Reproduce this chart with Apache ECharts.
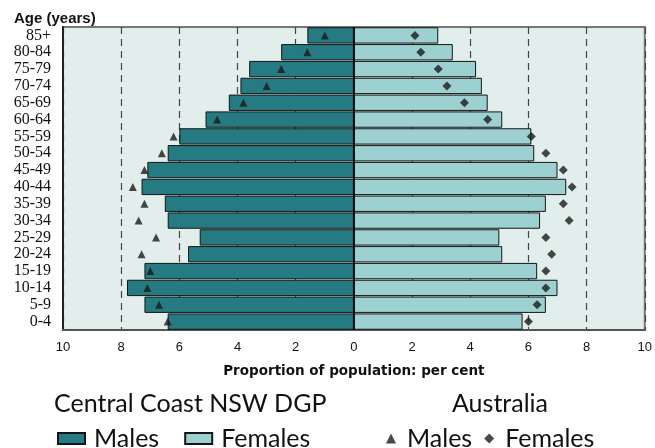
<!DOCTYPE html>
<html>
<head>
<meta charset="utf-8">
<script src="https://cdn.jsdelivr.net/npm/echarts@6/dist/echarts.min.js"></script>
<style>
html,body{margin:0;padding:0;background:#fff;}
#chart{width:655px;height:448px;}
</style>
</head>
<body>
<div id="chart"></div>
<script>
var categories = ['0-4','5-9','10-14','15-19','20-24','25-29','30-34','35-39','40-44','45-49','50-54','55-59','60-64','65-69','70-74','75-79','80-84','85+'];
var ccMales   = [6.4, 7.2, 7.8, 7.2, 5.7, 5.3, 6.4, 6.5, 7.3, 7.1, 6.4, 6.0, 5.1, 4.3, 3.9, 3.6, 2.5, 1.6];
var ccFemales = [5.8, 6.6, 7.0, 6.3, 5.1, 5.0, 6.4, 6.6, 7.3, 7.0, 6.2, 6.1, 5.1, 4.6, 4.4, 4.2, 3.4, 2.9];
var ausMales  = [6.4, 6.7, 7.1, 7.0, 7.3, 6.8, 7.4, 7.2, 7.6, 7.2, 6.6, 6.2, 4.7, 3.8, 3.0, 2.5, 1.6, 1.0];
var ausFemales= [6.0, 6.3, 6.6, 6.6, 6.8, 6.6, 7.4, 7.2, 7.5, 7.2, 6.6, 6.1, 4.6, 3.8, 3.2, 2.9, 2.3, 2.1];
var xTicks = [-10,-8,-6,-4,-2,0,2,4,6,8,10];

var chart = echarts.init(document.getElementById('chart'), null, {renderer:'canvas'});
var legendFont = 'Lato';
var option = {
  animation:false,
  title:[
    {text:'Age (years)', left:9, top:6, textStyle:{fontFamily:'Liberation Sans', fontWeight:'bold', fontSize:15, color:'#111'}},
    {text:'Central Coast NSW DGP', left:49, top:386, textStyle:{fontFamily:legendFont, fontWeight:'normal', fontSize:25, color:'#111'}},
    {text:'Australia', left:447, top:386, textStyle:{fontFamily:legendFont, fontWeight:'normal', fontSize:25, color:'#111'}}
  ],
  legend:[
    {data:['CC Males','CC Females'], left:57, top:426, padding:0, itemWidth:27, itemHeight:11, itemGap:25, icon:'rect',
     formatter:function(n){return n.replace('CC ','');},
     textStyle:{fontFamily:legendFont, fontSize:25, color:'#111', padding:[0,0,0,4]}},
    {data:['AUS Males','AUS Females'], left:386, top:426, padding:0, itemWidth:10, itemHeight:10, itemGap:12,
     formatter:function(n){return n.replace('AUS ','');},
     textStyle:{fontFamily:legendFont, fontSize:25, color:'#111', padding:[0,0,0,6]}}
  ],
  grid:{left:63, right:7, top:27, bottom:118, show:true, backgroundColor:'#e2eeeb', borderColor:'#777', borderWidth:2},
  xAxis:{
    type:'value', min:-10, max:10, interval:2,
    name:'Proportion of population: per cent', nameLocation:'middle', nameGap:34,
    nameTextStyle:{fontFamily:'DejaVu Sans', fontWeight:'bold', fontSize:13.5, color:'#111'},
    axisLine:{show:true, onZero:false, lineStyle:{color:'#555', width:2}},
    axisTick:{show:false},
    axisLabel:{margin:11, fontFamily:'Liberation Sans', fontSize:13, color:'#111',
      formatter:function(v){return String(Math.abs(v));}},
    splitLine:{show:true, lineStyle:{color:'#444', width:1.2, type:[7,5]}}
  },
  yAxis:{
    type:'category', data:categories,
    axisLine:{show:true, onZero:false, lineStyle:{color:'#222', width:2}},
    axisTick:{show:false},
    axisLabel:{interval:0, margin:12, fontFamily:'Liberation Serif', fontSize:16, color:'#111'},
    splitLine:{show:false}
  },
  series:[
    {name:'CC Males', type:'bar', data:ccMales.map(function(v){return -v;}),
     barGap:'-100%', barCategoryGap:'3%',
     itemStyle:{color:'#267b82', borderColor:'#151515', borderWidth:1}},
    {name:'CC Females', type:'bar', data:ccFemales,
     barGap:'-100%', barCategoryGap:'3%',
     itemStyle:{color:'#9dd1d1', borderColor:'#151515', borderWidth:1},
     markLine:{silent:true, symbol:'none', label:{show:false},
       lineStyle:{color:'#111', width:2, type:'solid'}, data:[{xAxis:0}]}},
    {name:'AUS Males', type:'scatter', symbol:'triangle', symbolSize:8,
     data:ausMales.map(function(v,i){return [-v, categories[i]];}),
     itemStyle:{color:'#1a1a1a'}, z:5},
    {name:'AUS Females', type:'scatter', symbol:'diamond', symbolSize:9,
     data:ausFemales.map(function(v,i){return [v, categories[i]];}),
     itemStyle:{color:'#1a1a1a'}, z:5}
  ]
};
chart.setOption(option);
</script>
</body>
</html>
